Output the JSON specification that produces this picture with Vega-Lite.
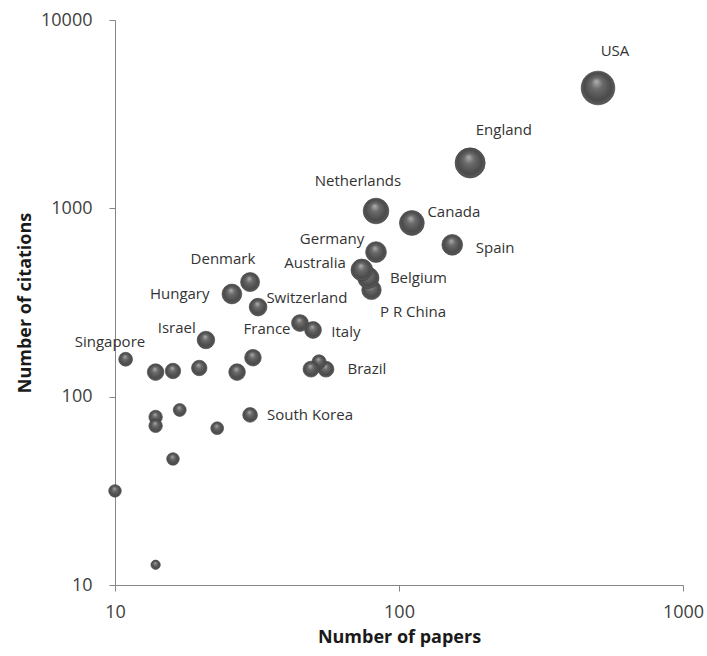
{
  "$schema": "https://vega.github.io/schema/vega-lite/v6.json",
  "autosize": "none",
  "width": 568,
  "height": 565,
  "padding": {"left": 115, "top": 20, "right": 24, "bottom": 71},
  "background": "white",
  "config": {"view": {"stroke": null}, "font": "Open Sans"},
  "datasets": {
    "points": [
      {"country": "", "papers": 13.9, "citations": 12.8, "bubble": 28},
      {"country": "", "papers": 10, "citations": 31.6, "bubble": 50},
      {"country": "", "papers": 16, "citations": 46.7, "bubble": 50},
      {"country": "", "papers": 22.9, "citations": 68, "bubble": 52},
      {"country": "", "papers": 16.9, "citations": 85, "bubble": 53},
      {"country": "", "papers": 13.9, "citations": 78, "bubble": 58},
      {"country": "", "papers": 13.9, "citations": 70, "bubble": 58},
      {"country": "South Korea", "papers": 29.9, "citations": 80, "bubble": 69},
      {"country": "Singapore", "papers": 10.9, "citations": 158, "bubble": 61},
      {"country": "", "papers": 13.9, "citations": 135, "bubble": 88},
      {"country": "", "papers": 16, "citations": 137, "bubble": 76},
      {"country": "", "papers": 19.8, "citations": 142, "bubble": 76},
      {"country": "", "papers": 26.9, "citations": 135, "bubble": 88},
      {"country": "", "papers": 30.6, "citations": 161, "bubble": 88},
      {"country": "Brazil", "papers": 55.3, "citations": 140, "bubble": 81},
      {"country": "", "papers": 52.3, "citations": 153, "bubble": 64},
      {"country": "", "papers": 49, "citations": 140, "bubble": 81},
      {"country": "Israel", "papers": 20.9, "citations": 200, "bubble": 98},
      {"country": "Italy", "papers": 49.8, "citations": 226, "bubble": 90},
      {"country": "France", "papers": 44.8, "citations": 246, "bubble": 90},
      {"country": "Switzerland", "papers": 31.9, "citations": 299, "bubble": 100},
      {"country": "Hungary", "papers": 25.8, "citations": 351, "bubble": 125},
      {"country": "Denmark", "papers": 29.9, "citations": 406, "bubble": 115},
      {"country": "P R China", "papers": 80, "citations": 369, "bubble": 121},
      {"country": "Belgium", "papers": 78, "citations": 427, "bubble": 144},
      {"country": "Australia", "papers": 74, "citations": 471, "bubble": 150},
      {"country": "Germany", "papers": 83, "citations": 586, "bubble": 137},
      {"country": "Spain", "papers": 154, "citations": 640, "bubble": 137},
      {"country": "Canada", "papers": 111, "citations": 836, "bubble": 196},
      {"country": "Netherlands", "papers": 83, "citations": 968, "bubble": 210},
      {"country": "England", "papers": 178, "citations": 1742, "bubble": 289},
      {"country": "USA", "papers": 502, "citations": 4355, "bubble": 361}
    ],
    "labels": [
      {"country": "USA", "papers": 576, "citations": 6855},
      {"country": "England", "papers": 234, "citations": 2606},
      {"country": "Netherlands", "papers": 71.7, "citations": 1398},
      {"country": "Canada", "papers": 156, "citations": 957},
      {"country": "Spain", "papers": 218, "citations": 617},
      {"country": "Germany", "papers": 58.1, "citations": 688},
      {"country": "Australia", "papers": 50.6, "citations": 513},
      {"country": "Belgium", "papers": 117, "citations": 427},
      {"country": "P R China", "papers": 112, "citations": 282},
      {"country": "Denmark", "papers": 24.0, "citations": 538},
      {"country": "Hungary", "papers": 16.9, "citations": 351},
      {"country": "Switzerland", "papers": 47.4, "citations": 334},
      {"country": "France", "papers": 34.3, "citations": 229},
      {"country": "Italy", "papers": 65.0, "citations": 221},
      {"country": "Israel", "papers": 16.5, "citations": 232},
      {"country": "Singapore", "papers": 9.6, "citations": 195},
      {"country": "Brazil", "papers": 77.1, "citations": 140},
      {"country": "South Korea", "papers": 48.6, "citations": 80}
    ]
  },
  "layer": [
    {
      "data": {"name": "points"},
      "mark": {
        "type": "circle",
        "opacity": 1,
        "fill": {
          "gradient": "radial",
          "x1": 0.45, "y1": 0.3, "r1": 0,
          "x2": 0.5, "y2": 0.5, "r2": 0.5,
          "stops": [
            {"offset": 0, "color": "#b0b0b0"},
            {"offset": 0.35, "color": "#6a6a6a"},
            {"offset": 0.8, "color": "#4a4a4a"},
            {"offset": 1, "color": "#5c5c5c"}
          ]
        },
        "stroke": "#3a3a3a",
        "strokeWidth": 0.6
      },
      "encoding": {
        "x": {
          "field": "papers", "type": "quantitative",
          "scale": {"type": "log", "domain": [10, 1000], "nice": false},
          "axis": {
            "title": "Number of papers",
            "values": [10, 100, 1000],
            "format": "d",
            "grid": false,
            "domainColor": "#868686",
            "tickColor": "#868686",
            "tickSize": 6,
            "labelPadding": 12,
            "labelFontSize": 18,
            "labelColor": "#404040",
            "labelFont": "Open Sans",
            "labelFlush": false,
            "titleFont": "Open Sans",
            "titleFontSize": 18,
            "titleFontWeight": "bold",
            "titleColor": "#1a1a1a",
            "titlePadding": 7
          }
        },
        "y": {
          "field": "citations", "type": "quantitative",
          "scale": {"type": "log", "domain": [10, 10000], "nice": false},
          "axis": {
            "title": "Number of citations",
            "values": [10, 100, 1000, 10000],
            "format": "d",
            "grid": false,
            "domainColor": "#868686",
            "tickColor": "#868686",
            "tickSize": 6,
            "labelPadding": 17,
            "labelFontSize": 18,
            "labelColor": "#404040",
            "labelFont": "Open Sans",
            "labelFlush": false,
            "titleFont": "Open Sans",
            "titleFontSize": 18,
            "titleFontWeight": "bold",
            "titleColor": "#1a1a1a",
            "titlePadding": 6
          }
        },
        "size": {
          "field": "bubble", "type": "quantitative",
          "scale": {"type": "linear", "domain": [0, 361], "range": [0, 1134], "zero": true},
          "legend": null
        }
      }
    },
    {
      "data": {"name": "labels"},
      "mark": {"type": "text", "font": "Open Sans", "fontSize": 15, "color": "#333333", "align": "center", "baseline": "middle"},
      "encoding": {
        "x": {"field": "papers", "type": "quantitative"},
        "y": {"field": "citations", "type": "quantitative"},
        "text": {"field": "country"}
      }
    }
  ]
}
